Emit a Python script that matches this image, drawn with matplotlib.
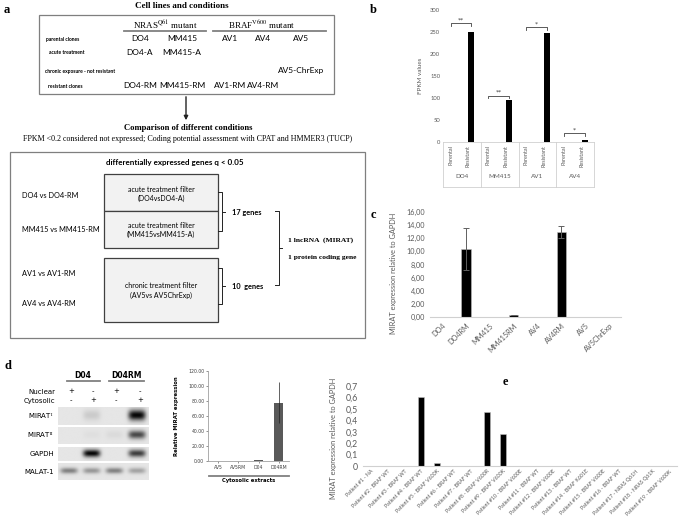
import numpy as np
import matplotlib.pyplot as plt
from matplotlib.patches import Rectangle
from matplotlib.ticker import FuncFormatter, MultipleLocator

W, H = 685, 528
plt.rcParams['mathtext.fontset'] = 'stix'
SANS = ['Lato', 'DejaVu Sans']
SERIF = ['Liberation Serif', 'DejaVu Serif']
VERD = ['DejaVu Sans']
GREY = '#595959'

# ---- panel a: schematic text
a_cols = ['DO4', 'MM415', 'AV1', 'AV4', 'AV5']
a_rows = ['parental clones', 'acute treatment', 'chronic exposure - not resistant', 'resistant clones']
a_cells = [['DO4', 'MM415', 'AV1', 'AV4', 'AV5'],
           ['DO4-A', 'MM415-A', '', '', ''],
           ['', '', '', '', 'AV5-ChrExp'],
           ['DO4-RM', 'MM415-RM', 'AV1-RM', 'AV4-RM', '']]
a_pairs = ['DO4 vs DO4-RM', 'MM415 vs MM415-RM', 'AV1 vs AV1-RM', 'AV4 vs AV4-RM']
a_filters = [('acute treatment filter', '(DO4vsDO4-A)'),
             ('acute treatment filter', '(MM415vsMM415-A)'),
             ('chronic treatment filter', '(AV5vs AV5ChrExp)')]

# ---- panel b: FPKM
b_groups = ['DO4', 'MM415', 'AV1', 'AV4']
b_parental = [0.3, 0.2, 0.2, 0.1]
b_resistant = [250, 95, 247, 5]
b_sig = ['**', '**', '*', '*']
b_sig_height = [270, 105, 261, 20]

# ---- panel c: qPCR cell lines
c_labels = ['DO4', 'DO4RM', 'MM415', 'MM415RM', 'AV4', 'AV4RM', 'AV5', 'AV5ChrExp']
c_values = [0.05, 10.3, 0.05, 0.3, 0, 13.0, 0, 0]
c_err = [0, 3.2, 0, 0.05, 0, 0.9, 0, 0]

# ---- panel d: gel + cytosolic expression
d_lanes_nuclear = ['+', '-', '+', '-']
d_lanes_cyto = ['-', '+', '-', '+']
d_gel_rows = ['MIRAT$^{\\mathrm{I}}$', 'MIRAT$^{\\mathrm{II}}$', 'GAPDH', 'MALAT-1']
d_gel_intensity = [[0.0, 0.12, 0.0, 1.0],
                   [0.0, 0.03, 0.05, 0.7],
                   [0.0, 1.0, 0.0, 0.75],
                   [0.45, 0.35, 0.45, 0.3]]
d_band_height = [0.6, 0.5, 0.55, 0.35]
d_labels = ['AV5', 'AV5RM', 'D04', 'D04RM']
d_values = [0.3, 0.3, 1.5, 78]
d_err = [0, 0, 0.5, 27]

# ---- panel e: patients
e_labels = ['Patient #1 - NA', 'Patient #2 - BRAF WT', 'Patient #3 - BRAF WT', 'Patient #4 - BRAF WT',
            'Patient #5 - BRAF V600K', 'Patient #6 - BRAF WT', 'Patient #7 - BRAF WT',
            'Patient #8 - BRAF V600R', 'Patient #9 - BRAF V600K', 'Patient #10 - BRAF V600E',
            'Patient #11 - BRAF WT', 'Patient #12 - BRAF V600E', 'Patient #13 - BRAF WT',
            'Patient #14 - BRAF K601E', 'Patient #15 - BRAF V600E', 'Patient #16 - BRAF WT',
            'Patient #17 - NRAS Q61H', 'Patient #18 - NRAS Q61K', 'Patient #19 - BRAF V600K']
e_values = [0, 0, 0, 0.60, 0.03, 0, 0, 0.47, 0.28, 0, 0, 0, 0, 0, 0, 0, 0, 0, 0]

fig = plt.figure(figsize=(W / 100, H / 100), dpi=100)


def px_axes(x0, y0, x1, y1):
    return fig.add_axes([x0 / W, 1 - y1 / H, (x1 - x0) / W, (y1 - y0) / H])


ov = px_axes(0, 0, W, H)
ov.set_xlim(0, W)
ov.set_ylim(H, 0)
ov.axis('off')


def box(x0, y0, x1, y1, fc='none', ec='#7f7f7f', lw=0.9):
    ov.add_patch(Rectangle((x0, y0), x1 - x0, y1 - y0, fc=fc, ec=ec, lw=lw))


def txt(x, y, s, size=6, fam=SANS, ha='center', weight='normal', **kw):
    ov.text(x, y, s, fontsize=size, family=fam, ha=ha, va='center', fontweight=weight, **kw)


# panel letters
for lab, (x, y) in zip('abcde', [(7, 10), (373, 10), (373, 215), (8, 366), (505, 382)]):
    txt(x, y, lab, size=9, fam=SERIF, weight='bold')

# ---------- panel a
txt(182, 6, 'Cell lines and conditions', size=6.5, fam=SERIF, weight='bold')
box(39, 15, 334, 94)
txt(165, 25, 'NRAS$^{\\mathrm{Q61}}$ mutant', size=6.5, fam=SERIF)
txt(262, 25, 'BRAF$^{\\mathrm{V600}}$ mutant', size=6.5, fam=SERIF)
ov.plot([124, 206], [31, 31], color='#808080', lw=1.3)
ov.plot([213, 326], [31, 31], color='#808080', lw=1.3)
col_x = [140, 182, 230, 263, 301]
row_y = [39, 53, 71, 86]
row_x = [63, 67, 80, 65]
for r, lab in enumerate(a_rows):
    txt(row_x[r], row_y[r], lab, size=3.6, weight='bold')
    for c, cell in enumerate(a_cells[r]):
        if cell:
            txt(col_x[c], row_y[r] - 0.5, cell, size=6)
ov.annotate('', xy=(186, 123), xytext=(186, 94),
            arrowprops=dict(arrowstyle='-|>', color='#222222', lw=1.0, mutation_scale=6))
txt(188, 128, 'Comparison of different conditions', size=6.2, fam=SERIF, weight='bold')
txt(188, 139, 'FPKM <0.2 considered not expressed; Coding potential assessment with CPAT and HMMER3 (TUCP)',
    size=5.8, fam=SERIF)

box(10, 152, 365, 338)
txt(175, 163, 'differentially expressed genes q < 0.05', size=5.8, weight='bold')
for s, y in zip(a_pairs, [195, 230, 273, 303]):
    txt(22, y, s, size=5.3, ha='left')
box(104, 174, 218, 211, fc='#f2f2f2', ec='#404040')
box(104, 211, 218, 248, fc='#f2f2f2', ec='#404040')
box(104, 258, 218, 322, fc='#f2f2f2', ec='#404040')
for (l1, l2), y in zip(a_filters, [189, 225, 286]):
    txt(161, y, l1, size=5.0)
    txt(161, y + 9, l2, size=5.0)
# brackets
for y0, y1 in [(192, 231), (268, 304)]:
    ym = (y0 + y1) / 2
    ov.plot([218, 222, 222, 218], [y0, y0, y1, y1], color='#222222', lw=0.7)
    ov.plot([222, 225], [ym, ym], color='#222222', lw=0.7)
txt(232, 212, '17 genes', size=5.3, ha='left', weight='bold')
txt(232, 287, '10  genes', size=5.3, ha='left', weight='bold')
ov.plot([275, 279, 279, 275], [211, 211, 285, 285], color='#222222', lw=0.7)
ov.plot([279, 282], [248, 248], color='#222222', lw=0.7)
txt(288, 240, '1 lncRNA  (MIRAT)', size=5.4, fam=SERIF, ha='left', weight='bold')
txt(288, 258, '1 protein coding gene', size=5.4, fam=SERIF, ha='left', weight='bold')

# ---------- panel b
axb = px_axes(443, 10, 594, 142)
xpos = np.arange(len(b_groups)) * 2
axb.bar(xpos, b_parental, width=0.32, color='black')
axb.bar(xpos + 1, b_resistant, width=0.32, color='black')
axb.set_xlim(-0.5, 7.5)
axb.set_ylim(0, 300)
axb.yaxis.set_major_locator(MultipleLocator(50))
axb.tick_params(axis='y', length=0, labelsize=4.2, labelcolor=GREY, pad=2)
axb.set_xticks([])
for sp in axb.spines.values():
    sp.set_visible(False)
axb.set_ylabel('FPKM values', fontsize=4.5, color=GREY, family=SANS)
axb.yaxis.set_label_coords(-0.13, 0.5)
for lab in axb.get_yticklabels():
    lab.set_family(SANS)
tr = axb.get_xaxis_transform()
for xs in [-0.5, 1.5, 3.5, 5.5, 7.5]:
    axb.plot([xs, xs], [0, -0.34], color='#d0d0d0', lw=0.6, transform=tr, clip_on=False)
axb.plot([-0.5, 7.5], [0, 0], color='#d0d0d0', lw=0.6, transform=tr, clip_on=False)
axb.plot([-0.5, 7.5], [-0.34, -0.34], color='#d0d0d0', lw=0.6, transform=tr, clip_on=False)
for i, g in enumerate(b_groups):
    x0 = xpos[i]
    axb.text(x0 - 0.1, -0.02, 'Parental', transform=tr, rotation=90, ha='center', va='top',
             fontsize=4, color=GREY, family=SANS)
    axb.text(x0 + 0.85, -0.02, 'Resistant', transform=tr, rotation=90, ha='center', va='top',
             fontsize=4, color=GREY, family=SANS)
    axb.text(x0 + 0.5, -0.26, g, transform=tr, ha='center', va='center',
             fontsize=4.5, color=GREY, family=SANS)
    h = b_sig_height[i]
    axb.plot([x0 - 0.1, x0 - 0.1, x0 + 1, x0 + 1], [h - 6, h, h, h - 6], color='#404040', lw=0.6)
    axb.text(x0 + 0.45, h + 2, b_sig[i], ha='center', va='bottom', fontsize=4.5, color='#404040')

# ---------- panel c
axc = px_axes(430, 212, 621, 317)
cx = np.arange(len(c_labels))
axc.bar(cx, c_values, width=0.4, color='black', edgecolor='#bfbfbf', lw=0.4,
        yerr=c_err, error_kw=dict(ecolor='#606060', elinewidth=0.7, capsize=2, capthick=0.7))
axc.set_xlim(-0.5, len(c_labels) - 0.5)
axc.set_ylim(0, 16)
axc.yaxis.set_major_locator(MultipleLocator(2))
axc.yaxis.set_major_formatter(FuncFormatter(lambda v, p: f'{v:.2f}'.replace('.', ',')))
axc.set_xticks(cx)
axc.set_xticklabels(c_labels, rotation=45, ha='right', rotation_mode='anchor', family=SANS)
axc.tick_params(length=0, labelsize=5.2, labelcolor=GREY)
for lab in axc.get_yticklabels():
    lab.set_family(SANS)
for s in ['top', 'right', 'left']:
    axc.spines[s].set_visible(False)
axc.spines['bottom'].set_color('#d0d0d0')
axc.set_ylabel('MIRAT expression relative to GAPDH', fontsize=5.3, color=GREY, family=SANS)
axc.yaxis.set_label_coords(-0.175, 0.42)

# ---------- panel d: gel
ov.text(83, 376, 'D04', fontsize=5.5, family=VERD, ha='center', va='center', fontweight='bold')
ov.text(127, 376, 'D04RM', fontsize=5.5, family=VERD, ha='center', va='center', fontweight='bold')
ov.plot([67, 100], [381, 381], color='#808080', lw=1.3)
ov.plot([109, 144], [381, 381], color='#808080', lw=1.3)
lane_x = [71, 93, 116, 140]
txt(55, 392, 'Nuclear', size=5, fam=VERD, ha='right')
txt(55, 401, 'Cytosolic', size=5, fam=VERD, ha='right')
for x, n, c in zip(lane_x, d_lanes_nuclear, d_lanes_cyto):
    txt(x, 391, n, size=5, fam=VERD)
    txt(x, 400, c, size=5, fam=VERD)
strips = [(407, 425), (427, 444), (447, 461), (463, 480)]
xg = np.linspace(0, 4, 240)
for (y0, y1), name, inten, bh in zip(strips, d_gel_rows, d_gel_intensity, d_band_height):
    axg = px_axes(58, y0, 149, y1)
    yg = np.linspace(-1, 1, 40)
    X, Y = np.meshgrid(xg, yg)
    img = np.full(X.shape, 0.9)
    for k, v in enumerate(inten):
        img -= 0.88 * v * np.exp(-((X - (k + 0.48)) / 0.38) ** 4) * np.exp(-((Y + 0.1) / bh) ** 2)
    axg.imshow(img, cmap='gray', vmin=0, vmax=1, aspect='auto', extent=(0, 4, -1, 1),
               interpolation='bilinear')
    axg.axis('off')
    txt(54, (y0 + y1) / 2, name, size=5, fam=VERD, ha='right')

# ---------- panel d: bars
axd = px_axes(208, 371, 289, 461)
dx = np.arange(len(d_labels))
axd.bar(dx, d_values, width=0.45, color='#595959',
        yerr=d_err, error_kw=dict(ecolor='#222222', elinewidth=0.5, capsize=0))
axd.set_xlim(-0.5, len(d_labels) - 0.5)
axd.set_ylim(0, 120)
axd.yaxis.set_major_locator(MultipleLocator(20))
axd.yaxis.set_major_formatter(FuncFormatter(lambda v, p: f'{v:.2f}'))
axd.set_xticks(dx)
axd.set_xticklabels(d_labels, family=VERD)
axd.tick_params(labelsize=3.3, length=1.2, width=0.4, colors='#404040', pad=1.5)
for s in ['top', 'right']:
    axd.spines[s].set_visible(False)
for s in ['left', 'bottom']:
    axd.spines[s].set_color('#a0a0a0')
    axd.spines[s].set_linewidth(0.6)
axd.set_ylabel('Relative MIRAT expression', fontsize=3.8, fontweight='bold', family=VERD)
axd.yaxis.set_label_coords(-0.36, 0.5)
trd = axd.get_xaxis_transform()
axd.plot([-0.45, 3.5], [-0.165, -0.165], color='#808080', lw=1.3, transform=trd, clip_on=False)
axd.text(1.5, -0.22, 'Cytosolic extracts', transform=trd, ha='center', va='center',
         fontsize=3.8, fontweight='bold', family=VERD)

# ---------- panel e
axe = px_axes(363, 386, 677, 466)
ex = np.arange(len(e_labels))
axe.bar(ex, e_values, width=0.36, color='black', edgecolor='#bfbfbf', lw=0.4)
axe.set_xlim(-0.5, len(e_labels) - 0.5)
axe.set_ylim(0, 0.7)
axe.yaxis.set_major_locator(MultipleLocator(0.1))
axe.yaxis.set_major_formatter(FuncFormatter(lambda v, p: '0' if abs(v) < 1e-9 else f'{v:.1f}'.replace('.', ',')))
axe.set_xticks(ex)
axe.set_xticklabels(e_labels, rotation=45, ha='right', rotation_mode='anchor', family=SANS, fontsize=3.8)
axe.tick_params(axis='x', length=0, labelcolor=GREY, pad=2)
axe.tick_params(axis='y', length=0, labelsize=6.3, labelcolor=GREY)
for lab in axe.get_yticklabels():
    lab.set_family(SANS)
for s in ['top', 'right', 'left']:
    axe.spines[s].set_visible(False)
axe.spines['bottom'].set_color('#d0d0d0')
axe.set_ylabel('MIRAT expression relative to GAPDH', fontsize=5.3, color=GREY, family=SANS)
axe.yaxis.set_label_coords(-0.083, 0.35)

fig.savefig('out.png', dpi=100)
